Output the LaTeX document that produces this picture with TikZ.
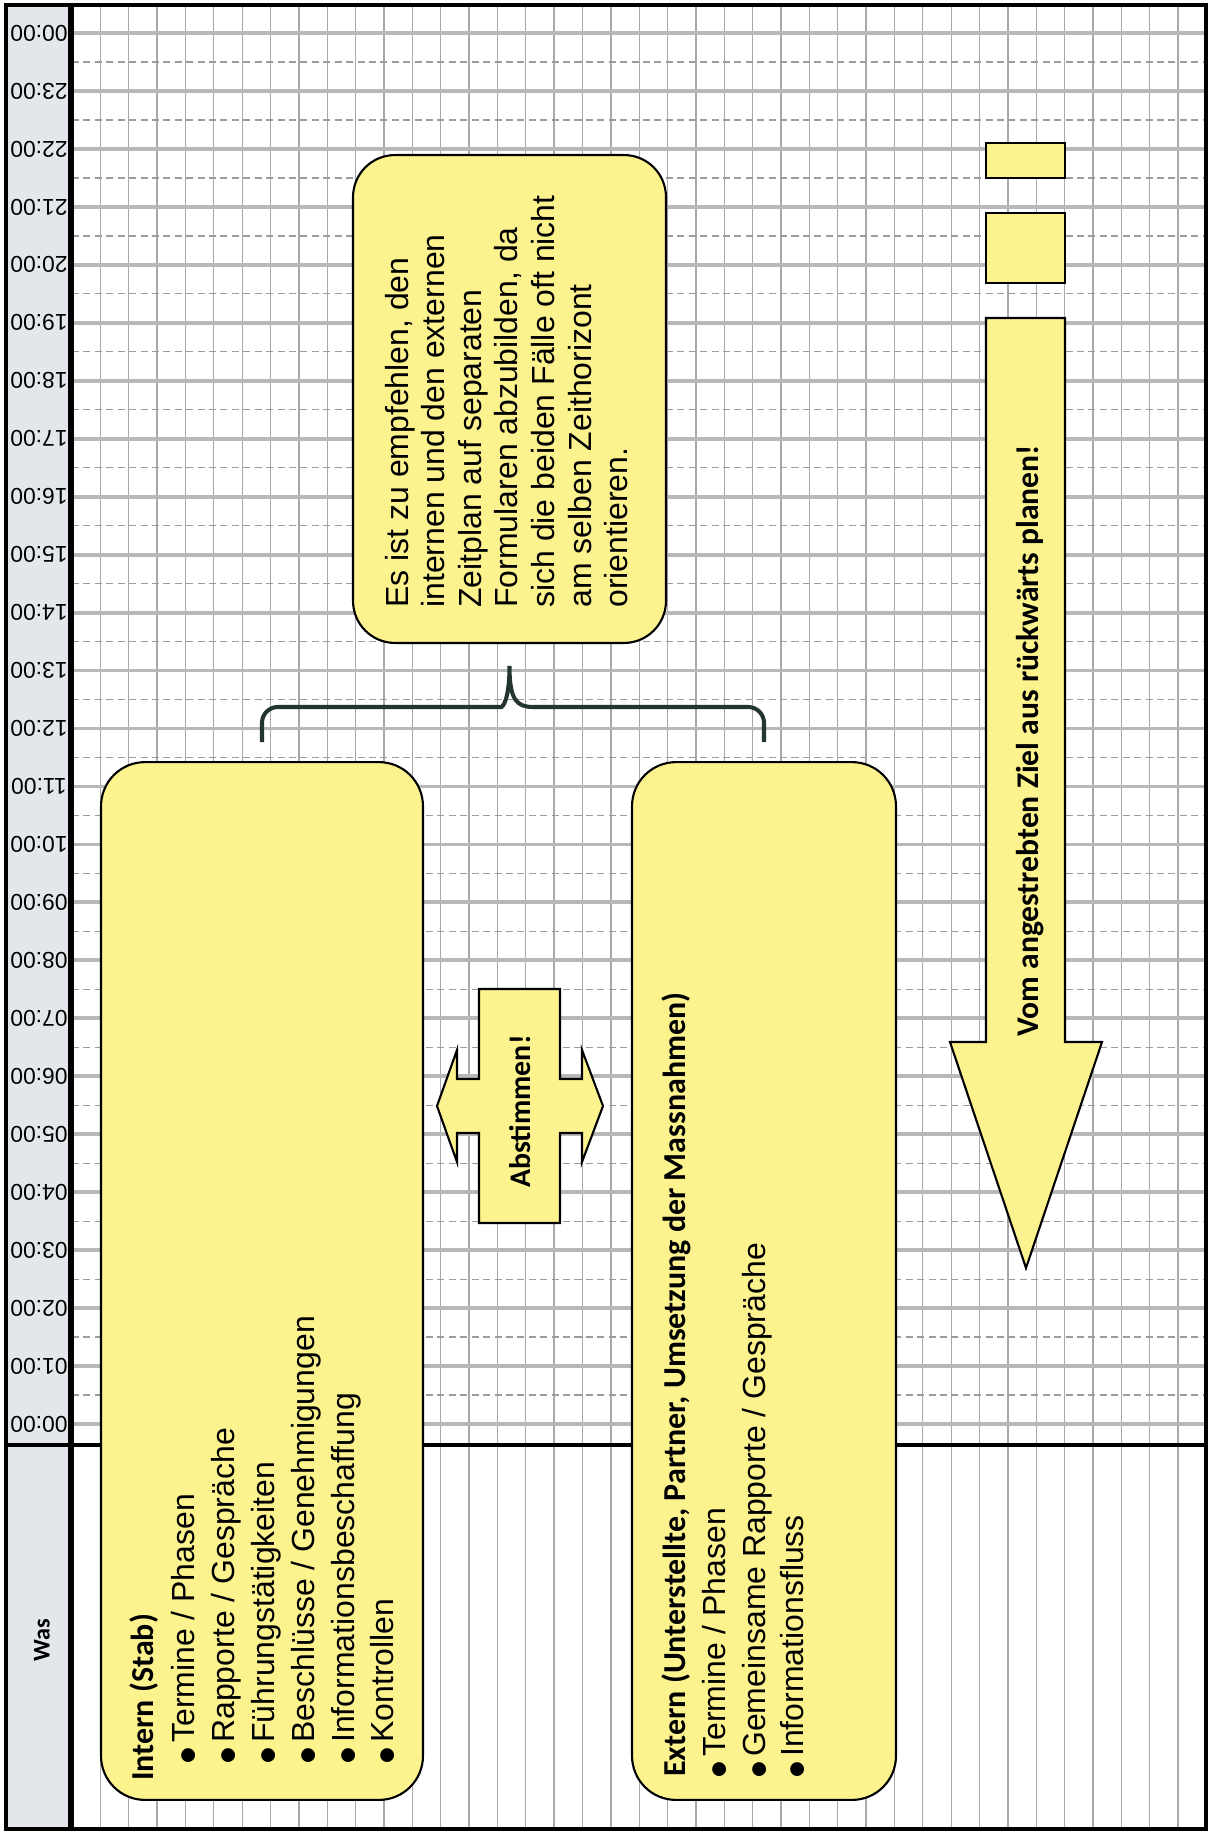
\documentclass[tikz,border=0pt]{standalone}
\usepackage{fontspec}
\setmainfont{Liberation Sans}
\newfontfamily\headfont{Carlito}
\usetikzlibrary{calc}

\definecolor{boxyellow}{HTML}{FDF38E}
\definecolor{colgrey}{HTML}{E3E6EB}
\definecolor{gridgrey}{HTML}{B8B8B8}
\definecolor{dashgrey}{HTML}{9C9C9C}
\definecolor{vgrey}{HTML}{A8A8A8}
\definecolor{bracegreen}{HTML}{22362E}

% bullet used in the item lists
\newcommand{\bdot}{\makebox[12.5pt][l]{\raisebox{-6.3pt}{\fontsize{29}{29}\selectfont •}}}

\tikzset{
  vline/.style={line width=0.75pt, draw=vgrey},
  hourline/.style={line width=2.2pt, draw=gridgrey},
  halfline/.style={line width=0.75pt, draw=dashgrey, dash pattern=on 4pt off 2.5pt},
  frame/.style={line width=2.8pt, draw=black},
  ybox/.style={draw=black, fill=boxyellow, line width=1.2pt, rounded corners=0.88cm, inner sep=0pt},
  yshape/.style={draw=black, fill=boxyellow, line width=1.2pt, line join=miter},
  timelabel/.style={font=\fontsize{13}{15}\selectfont, rotate=180, inner sep=0pt},
  bodyline/.style={font=\fontsize{18.2}{22}\selectfont, rotate=90, anchor=base west, inner sep=0pt},
  headline/.style={font=\headfont\bfseries\fontsize{18.2}{22}\selectfont, rotate=90, anchor=base west, inner sep=0pt},
  bigcaption/.style={font=\headfont\bfseries\fontsize{17}{20}\selectfont, rotate=90, anchor=base west, inner sep=0pt},
  bracestyle/.style={draw=bracegreen, line width=2.3pt}
}

\begin{document}
\begin{tikzpicture}[x=0.02cm, y=-0.02cm]
\useasboundingbox (0,0) rectangle (1210,1834);
\fill[white] (0,0) rectangle (1210,1834);

% grey label column
\fill[colgrey] (6,5) rectangle (71,1829);

% vertical grid lines
\foreach \j in {1,...,39}
  \draw[vline] ({72+28.36*\j},5) -- ({72+28.36*\j},1829);

% hour and half-hour lines
\foreach \k in {0,...,24}
  \draw[hourline] (72,{33+57.96*\k}) -- (1206,{33+57.96*\k});
\foreach \k in {0,...,23}
  \draw[halfline] (72,{62+57.96*\k}) -- (1206,{62+57.96*\k});

% time labels
\foreach \k in {0,...,24}{
  \pgfmathtruncatemacro\hr{mod(24-\k,24)}
  \node[timelabel] (t\k) at (39,{33+57.96*\k}) {\ifnum\hr<10 0\fi\hr:00};
}

% frame and dividers
\draw[frame] (6,5) rectangle (1206,1829);
\draw[line width=3pt] (71,5) -- (71,1829);
\draw[line width=2.6pt] (6,1445) -- (1206,1445);

\node[font=\headfont\bfseries\fontsize{13.7}{16}\selectfont, rotate=90, inner sep=0pt] (was) at (42,1640) {Was};

% the two planning boxes and the note
\node[ybox, minimum width=6.44cm, minimum height=20.76cm] (intern) at (262,1281) {};
\node[ybox, minimum width=5.28cm, minimum height=20.76cm] (extern) at (764,1281) {};
\node[ybox, rounded corners=0.84cm, minimum width=6.26cm, minimum height=9.76cm] (note) at (509.5,399) {};

% brace from the note to both boxes
\coordinate (bL) at ($(intern.north)+(0,-19)$);
\coordinate (bR) at ($(extern.north)+(0,-19)$);
\coordinate (bC) at ($(note.south)+(0,22)$);
\coordinate (bM) at ($(bC)+(0,41)$);
\draw[bracestyle] (bL) [rounded corners=9] -- (bL |- bM) -- ($(bM)+(-24,0)$) [sharp corners]
  .. controls ($(bM)+(-7,0)$) and ($(bC)+(0,34)$) .. (bC)
  .. controls ($(bC)+(0,34)$) and ($(bM)+(7,0)$) .. ($(bM)+(24,0)$) [rounded corners=9]
  -- (bR |- bM) -- (bR);

% double-headed "Abstimmen" arrow
\draw[yshape] (479,989) -- (560,989) -- (560,1079) -- (582,1079) -- (582,1050) -- (603,1106)
  -- (582,1162) -- (582,1133) -- (560,1133) -- (560,1223) -- (479,1223) -- (479,1133)
  -- (457,1133) -- (457,1162) -- (437,1106) -- (457,1050) -- (457,1079) -- (479,1079) -- cycle;
\node[bigcaption] (abst) at (530,1188) {Abstimmen!};

% backward-planning arrow with its two leading blocks
\draw[yshape] (986,143) rectangle (1065,178);
\draw[yshape] (986,213) rectangle (1065,283);
\draw[yshape] (986,318) -- (1065,318) -- (1065,1042) -- (1102,1042) -- (1026,1268)
  -- (950,1042) -- (986,1042) -- cycle;
\node[bigcaption, font=\headfont\bfseries\fontsize{18}{21}\selectfont] (vom) at (1038,1037) {Vom angestrebten Ziel aus rückwärts planen!};

% text of the internal box
\node[headline] (i0) at (153,1781) {Intern (Stab)};
\node[bodyline] (i1) at (194,1765) {\bdot Termine / Phasen};
\node[bodyline] (i2) at (234,1765) {\bdot Rapporte / Gespräche};
\node[bodyline] (i3) at (274,1765) {\bdot Führungstätigkeiten};
\node[bodyline] (i4) at (314,1765) {\bdot Beschlüsse / Genehmigungen};
\node[bodyline] (i5) at (354,1765) {\bdot Informationsbeschaffung};
\node[bodyline] (i6) at (393,1765) {\bdot Kontrollen};

% text of the external box
\node[headline] (e0) at (685,1777) {Extern (Unterstellte, Partner, Umsetzung der Massnahmen)};
\node[bodyline] (e1) at (725,1779) {\bdot Termine / Phasen};
\node[bodyline] (e2) at (765,1779) {\bdot Gemeinsame Rapporte / Gespräche};
\node[bodyline] (e3) at (803,1779) {\bdot Informationsfluss};

% text of the note
\node[bodyline] (n1) at (408,608) {Es ist zu empfehlen, den};
\node[bodyline] (n2) at (444.6,608) {internen und den externen};
\node[bodyline] (n3) at (481.2,608) {Zeitplan auf separaten};
\node[bodyline] (n4) at (517.8,608) {Formularen abzubilden, da};
\node[bodyline] (n5) at (554.4,608) {sich die beiden Fälle oft nicht};
\node[bodyline] (n6) at (591,608) {am selben Zeithorizont};
\node[bodyline] (n7) at (627.6,608) {orientieren.};
\end{tikzpicture}
\end{document}
